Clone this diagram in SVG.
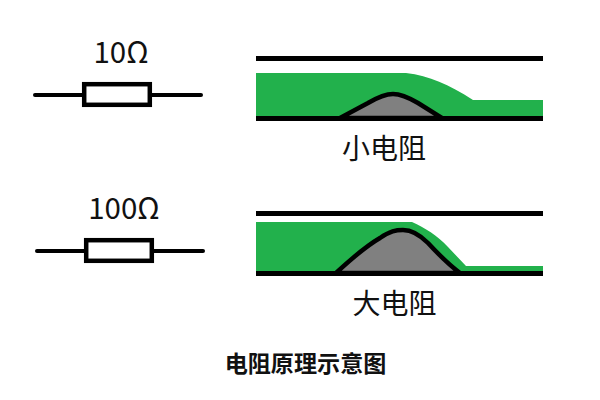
<svg xmlns="http://www.w3.org/2000/svg" width="600" height="400" viewBox="0 0 600 400">
<style>
text{font-family:"Noto Sans CJK SC","Noto Sans",sans-serif;fill:#111;text-anchor:middle}
.l{font-size:28px}
.n{font-size:29.500px}
.t{font-size:23.100px;font-weight:700}
.w{fill:none;stroke:#000;stroke-width:4}
.b{fill:#fff;stroke:#000;stroke-width:4.5}
.p{fill:none;stroke:#000;stroke-width:5}
.g{fill:#22b14c}
.m{fill:#808080;stroke:#000;stroke-width:4.5}
</style>
<rect width="600" height="400" fill="#fff"/>
<g id="resistor-10">
<path class="w" stroke-linecap="round" d="M35 95H201"/>
<rect class="b" x="84.2" y="84.2" width="65.6" height="20.6"/>
<text class="n" x="121" y="62.500">10Ω</text>
</g>
<g id="resistor-100">
<path class="w" stroke-linecap="round" d="M37 251H203"/>
<rect class="b" x="86.2" y="240.2" width="65.6" height="20.6"/>
<text class="n" x="124" y="218.500">100Ω</text>
</g>
<g id="small-film">
<path class="g" d="M256 73H406C430 76 448 84 473 100H543V118H256Z"/>
<path class="m" d="M340 118L368 103C380 96 386 94 393 94C400 94 406 96 418 103L442 118Z"/>
<path class="p" d="M256 58.500H543M256 118.500H543"/>
<text class="l" x="384" y="159">小电阻</text>
</g>
<g id="large-film">
<path class="g" d="M256 222H412C425 228 437 235 448 247L466 266H543V273H256Z"/>
<path class="m" d="M336 273C350 260 368 245 380 238C390 231 396 230 403 230C411 230 418 233 428 243C440 256 448 264 460 273Z"/>
<path class="p" d="M256 213.500H543M256 273.500H543"/>
<text class="l" x="394.500" y="314">大电阻</text>
</g>
<text id="title" class="t" x="305.500" y="372">电阻原理示意图</text>
</svg>
